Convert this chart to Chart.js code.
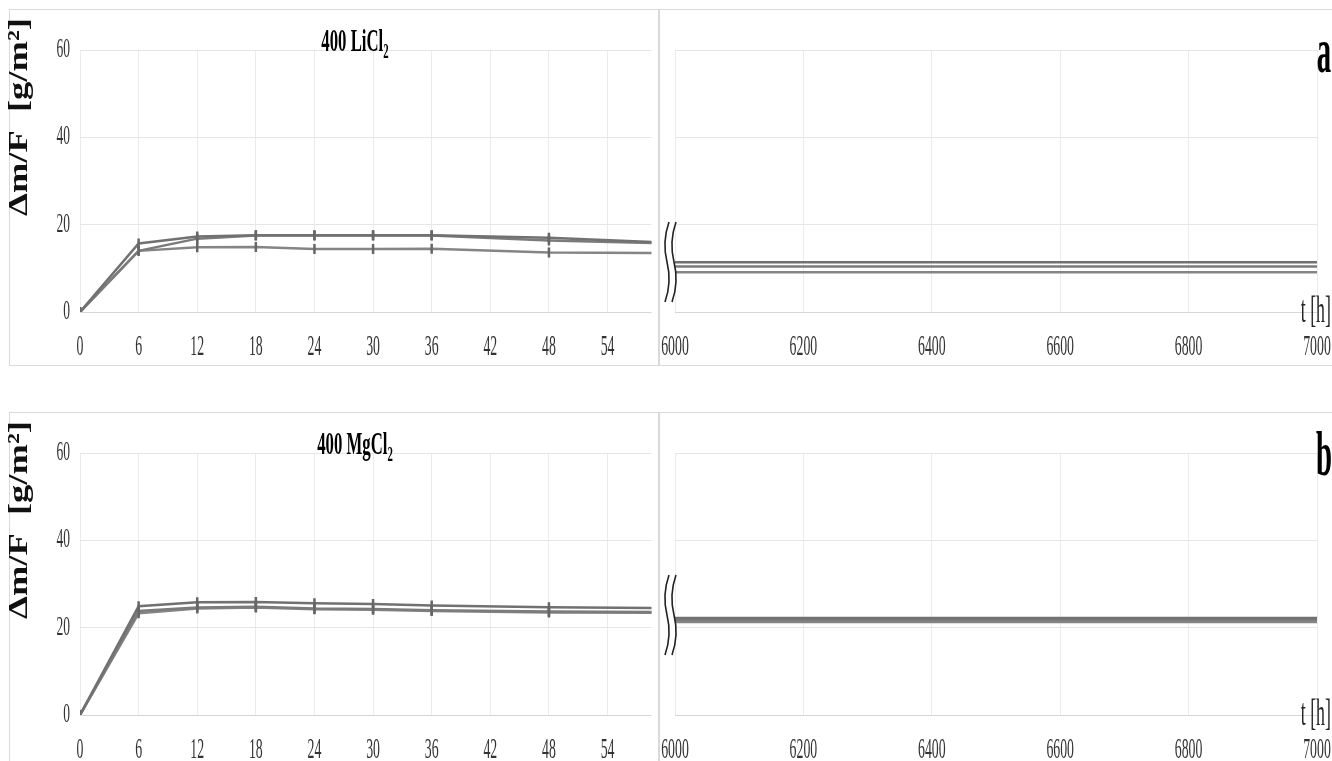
<!DOCTYPE html>
<html>
<head>
<meta charset="utf-8">
<script src="https://cdn.jsdelivr.net/npm/chart.js@4/dist/chart.umd.min.js"></script>
<style>
  body { margin: 0; background: #fff; overflow: hidden; }
  #page { position: relative; width: 1332px; height: 761px; overflow: hidden; }
  .row { position: absolute; left: 0; width: 1332px; height: 370px; }
  .box { position: absolute; left: 9px; top: 9px; width: 1340px; height: 355px; border: 1.5px solid #d9d9d9; }
  .divider { position: absolute; left: 658px; top: 9px; width: 1.5px; height: 357px; background: #d9d9d9; }
  .pane { position: absolute; top: 0; height: 370px; }
  .pane.left { left: 0; width: 659px; }
  .pane.right { left: 659px; width: 673px; }
</style>
</head>
<body>
<div id="page">
  <div class="row" style="top:0px">
    <div class="box"></div><div class="divider"></div>
    <div class="pane left"><canvas id="licl_short"></canvas></div>
    <div class="pane right"><canvas id="licl_long"></canvas></div>
  </div>
  <div class="row" style="top:403px">
    <div class="box"></div><div class="divider"></div>
    <div class="pane left"><canvas id="mgcl_short"></canvas></div>
    <div class="pane right"><canvas id="mgcl_long"></canvas></div>
  </div>
</div>
<script>
// time points, hours
const hoursShort = [0, 6, 12, 18, 24, 30, 36, 48, 60];
const hoursLong = [6000, 7000];

// mass gain dm/F [g/m2], 400 LiCl2
const liclA = [0, 15.7, 17.3, 17.6, 17.6, 17.6, 17.6, 17.0, 15.9];
const liclB = [0, 14.0, 16.8, 17.5, 17.5, 17.5, 17.5, 16.4, 15.7];
const liclC = [0, 14.0, 14.8, 14.9, 14.4, 14.4, 14.5, 13.6, 13.5];
const liclLongA = [11.4, 11.4];
const liclLongB = [10.4, 10.4];
const liclLongC = [9.1, 9.1];

// 400 MgCl2
const mgclA = [0, 24.9, 25.8, 25.9, 25.6, 25.4, 25.1, 24.7, 24.5];
const mgclB = [0, 23.8, 24.6, 24.8, 24.4, 24.3, 24.0, 23.7, 23.6];
const mgclC = [0, 23.3, 24.4, 24.6, 24.2, 24.1, 23.8, 23.5, 23.4];
const mgclLongA = [22.2, 22.2];
const mgclLongB = [21.8, 21.8];
const mgclLongC = [21.3, 21.3];

const SERIF = '"Liberation Serif", "Times New Roman", serif';
const lineColors = ['#717171', '#7b7b7b', '#858585'];

function squashed(ctx, text, x, y, font, sx, align, baseline, color) {
  ctx.save();
  ctx.translate(x, y);
  ctx.scale(sx, 1);
  ctx.font = font;
  ctx.fillStyle = color;
  ctx.textAlign = align;
  ctx.textBaseline = baseline;
  ctx.fillText(text, 0, 0);
  ctx.restore();
}

const panelText = {
  id: 'panelText',
  afterDraw(chart, args, opts) {
    const ctx = chart.ctx;
    const area = chart.chartArea;
    const xs = chart.scales.x;
    const ys = chart.scales.y;

    xs.ticks.forEach(t => {
      squashed(ctx, String(t.value), xs.getPixelForValue(t.value), area.bottom + 35,
        '30px ' + SERIF, 0.46, 'center', 'middle', '#333');
    });

    if (opts.side === 'left') {
      ys.ticks.forEach(t => {
        squashed(ctx, String(t.value), area.left - 10, ys.getPixelForValue(t.value),
          '27px ' + SERIF, 0.5, 'right', 'middle', '#333');
      });

      // panel title with subscript
      const tf = 'bold 31px ' + SERIF, sf = 'bold 20px ' + SERIF, tsx = 0.54;
      ctx.save();
      ctx.font = tf;
      const mainW = ctx.measureText(opts.title).width * tsx;
      ctx.font = sf;
      const subW = ctx.measureText(opts.sub).width * tsx;
      ctx.restore();
      const x0 = opts.titleX - (mainW + subW) / 2;
      squashed(ctx, opts.title, x0, area.top + 1, tf, tsx, 'left', 'alphabetic', '#000');
      squashed(ctx, opts.sub, x0 + mainW, area.top + 8, sf, tsx, 'left', 'alphabetic', '#000');

      // y axis title
      ctx.save();
      ctx.translate(20, 117);
      ctx.rotate(-Math.PI / 2);
      ctx.font = 'bold 28px ' + SERIF;
      const w = ctx.measureText(opts.yTitle).width;
      ctx.scale(198 / w, 1);
      ctx.fillStyle = '#111';
      ctx.textAlign = 'center';
      ctx.textBaseline = 'middle';
      ctx.fillText(opts.yTitle, 0, 0);
      ctx.restore();
    } else {
      squashed(ctx, opts.letter, area.right + 7, area.top + 22, 'bold 64px ' + SERIF, 0.45, 'center', 'alphabetic', '#000');
      squashed(ctx, 't [h]', area.right + 14, area.bottom + 10, '38px ' + SERIF, 0.47, 'right', 'alphabetic', '#262626');

      // axis break marks
      const firsts = chart.data.datasets.map(d => d.data[0].y);
      const mean = firsts.reduce((a, b) => a + b, 0) / firsts.length;
      const yc = ys.getPixelForValue(mean) - 5;
      const h = 80;
      ctx.save();
      ctx.strokeStyle = '#222';
      ctx.lineWidth = 1.6;
      [area.left - 8, area.left - 1].forEach(bx => {
        ctx.beginPath();
        ctx.moveTo(bx + 2, yc - h / 2);
        ctx.quadraticCurveTo(bx - 5, yc - h / 4, bx, yc);
        ctx.quadraticCurveTo(bx + 5, yc + h / 4, bx - 2, yc + h / 2);
        ctx.stroke();
      });
      ctx.restore();
    }
  }
};

function series(xs, ys, i, markers) {
  return {
    data: xs.map((x, k) => ({ x: x, y: ys[k] })),
    borderColor: lineColors[i],
    backgroundColor: '#666',
    borderWidth: 2.5,
    pointStyle: 'line',
    rotation: 90,
    pointRadius: markers ? 5 : 0,
    pointBorderColor: '#666',
    pointBorderWidth: 2.5,
    tension: 0
  };
}

function makeChart(id, side, datasets, xMin, xMax, step, extra) {
  const isLeft = side === 'left';
  new Chart(document.getElementById(id), {
    type: 'line',
    data: { datasets: datasets },
    options: {
      responsive: true,
      maintainAspectRatio: false,
      animation: false,
      events: [],
      layout: { padding: isLeft ? { left: 80, right: 0, top: 50, bottom: 58 } : { left: 16, right: 15, top: 50, bottom: 58 } },
      plugins: {
        legend: { display: false },
        tooltip: { enabled: false },
        panelText: Object.assign({ side: side }, extra)
      },
      scales: {
        x: {
          type: 'linear',
          min: xMin,
          max: xMax,
          ticks: { display: false, stepSize: step, includeBounds: false },
          grid: { color: '#ebebeb', lineWidth: 1, drawTicks: false },
          border: { display: false }
        },
        y: {
          min: 0,
          max: 60,
          ticks: { display: false, stepSize: 20 },
          grid: { color: ctx => ctx.tick && ctx.tick.value === 0 ? '#d6d6d6' : '#e6e6e6', lineWidth: 1, drawTicks: false },
          border: { display: false }
        }
      }
    },
    plugins: [panelText]
  });
}

const yTitle = '\u0394m/F  [g/m\u00b2]';

makeChart('licl_short', 'left', [
  series(hoursShort, liclA, 0, true),
  series(hoursShort, liclB, 1, true),
  series(hoursShort, liclC, 2, true)
], 0, 58.5, 6, { title: '400 LiCl', sub: '2', titleX: 355, yTitle: yTitle });

makeChart('licl_long', 'right', [
  series(hoursLong, liclLongA, 0, false),
  series(hoursLong, liclLongB, 1, false),
  series(hoursLong, liclLongC, 2, false)
], 6000, 7000, 200, { letter: 'a' });

makeChart('mgcl_short', 'left', [
  series(hoursShort, mgclA, 0, true),
  series(hoursShort, mgclB, 1, true),
  series(hoursShort, mgclC, 2, true)
], 0, 58.5, 6, { title: '400 MgCl', sub: '2', titleX: 355, yTitle: yTitle });

makeChart('mgcl_long', 'right', [
  series(hoursLong, mgclLongA, 0, false),
  series(hoursLong, mgclLongB, 1, false),
  series(hoursLong, mgclLongC, 2, false)
], 6000, 7000, 200, { letter: 'b' });
</script>
</body>
</html>
